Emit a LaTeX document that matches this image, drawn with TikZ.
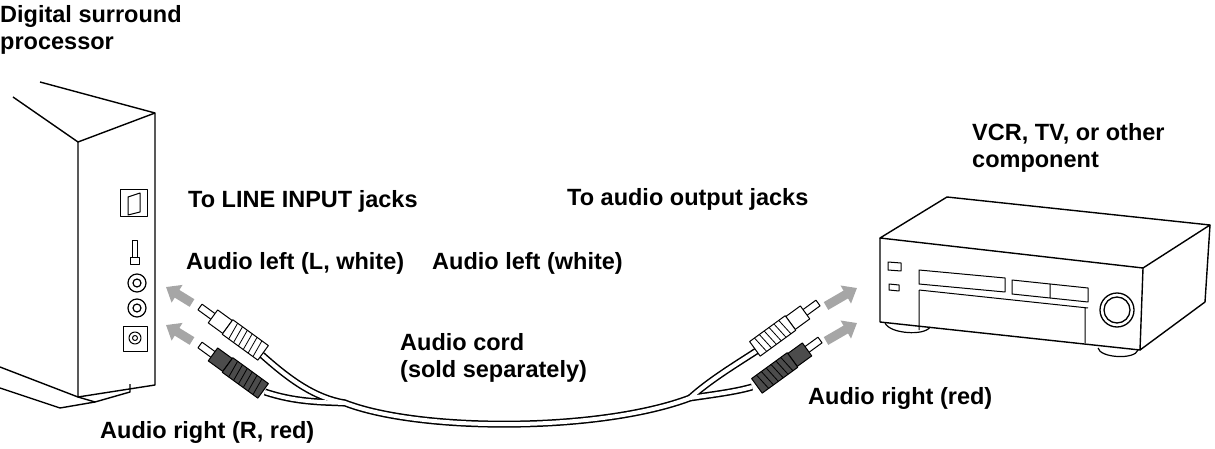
\documentclass[tikz,border=0pt]{standalone}
\usepackage{fontspec}
\setmainfont{Liberation Sans}
\usetikzlibrary{arrows.meta}
\begin{document}
\begin{tikzpicture}[x=1pt,y=-1pt,line join=round,
  lab/.style={anchor=west,inner sep=0pt,font=\fontsize{23.5}{27}\selectfont\bfseries,align=left},
  dev/.style={line width=1.4pt},
  garrow/.style={line width=9pt,gray!70,-{Triangle[length=13pt,width=20pt]}},
  cordo/.style={line width=7pt,black},
  cordi/.style={line width=4pt,white},
  plug/.pic={
    \draw[fill=white,line width=1pt] (0,-3.5) rectangle (18,3.5);
    \draw[fill=#1,line width=1pt] (16,-8) rectangle (34,8);
    \draw[fill=#1,line width=1pt] (34,-9) rectangle (78,9);
    \foreach \k in {40,46,...,74} \draw[line width=0.8pt] (\k,-9) -- (\k+2,9);
  }]
\useasboundingbox (0,0) rectangle (1215,449);
% ---- left device
\draw[dev] (13,97) -- (78,142) -- (155,113);
\draw[dev] (40,82) -- (155,113) -- (155,385) -- (78,397) -- (78,142);
\draw[dev] (0,367) -- (78,397);
\draw[dev] (0,388) -- (60,408) -- (95,402);
\draw[dev] (78,397) -- (95,402) -- (130,392) -- (130,384);
\draw[line width=1pt] (120,190) rectangle (147,217);
\draw[line width=1pt] (128,197) -- (140,193) -- (140,212) -- (128,215) -- cycle;
\draw[line width=1pt] (132,240) rectangle (137,257) (130,257) rectangle (139,264);
\draw[line width=1.2pt] (137,283) circle (9) (137,283) circle (4);
\draw[line width=1.2pt] (137,308) circle (9) (137,308) circle (4);
\draw[line width=1pt] (123,326) rectangle (147,351);
\draw[line width=1pt] (135,338) circle (6) (135,338) circle (2.5);
\draw[garrow] (192,303) -- (166,287);
\draw[garrow] (192,341) -- (166,325);
% ---- right device
\draw[dev] (880,238) -- (947,197) -- (1210,225) -- (1143,268) -- cycle;
\draw[dev] (880,238) -- (880,322) -- (1140,350) -- (1143,268);
\draw[dev] (1140,350) -- (1205,302) -- (1210,225);
\draw[line width=1.2pt] (885,323) .. controls (890,334) and (925,336) .. (930,327);
\draw[line width=1.2pt] (1098,348) .. controls (1100,358) and (1135,360) .. (1138,350);
\draw[line width=1pt] (888,262) -- (901,263) -- (901,271) -- (888,270) -- cycle;
\draw[line width=1pt] (889,284) -- (899,285) -- (899,291) -- (889,290) -- cycle;
\draw[line width=1pt] (919,270) -- (1005,278) -- (1005,292) -- (919,284) -- cycle;
\draw[line width=1pt] (1012,280) -- (1050,284) -- (1050,298) -- (1012,294) -- cycle;
\draw[line width=1pt] (1050,284) -- (1088,288) -- (1088,302) -- (1050,298);
\draw[line width=1pt] (919,290) -- (1088,308) (919,290) -- (919,330) (1085,308) -- (1085,343);
\draw[line width=1.3pt] (1117,310) circle (17) (1117,310) circle (13);
\draw[garrow] (826,306) -- (857,288);
\draw[garrow] (826,341) -- (857,323);
% ---- cord
\foreach \s in {cordo,cordi}{
\draw[\s] (262,355) .. controls (290,380) and (315,398) .. (345,403);
\draw[\s] (265,392) .. controls (295,402) and (320,402) .. (345,403)
  .. controls (420,432) and (600,432) .. (690,398);
\draw[\s] (690,398) .. controls (710,380) and (735,365) .. (758,350);
\draw[\s] (690,398) .. controls (710,395) and (735,392) .. (752,387);
}
% plugs
\pic[rotate=-36] at (200,307) {plug=white};
\pic[rotate=-36] at (200,345) {plug=black!70};
\pic[rotate=216] at (818,303) {plug=white};
\pic[rotate=216] at (820,340) {plug=black!70};
% ---- labels
\node[lab,anchor=north west] (dsp) at (0,5) {Digital surround\\processor};
\node[lab] (line) at (188,201) {To LINE INPUT jacks};
\node[lab] (al) at (186,263) {Audio left (L, white)};
\node[lab] (al2) at (432,263) {Audio left (white)};
\node[lab] (out) at (567,199) {To audio output jacks};
\node[lab] (vcr) at (972,148) {VCR, TV, or other\\component};
\node[lab] (cord) at (400,358) {Audio cord\\(sold separately)};
\node[lab] (ar) at (808,398) {Audio right (red)};
\node[lab] (arl) at (100,432) {Audio right (R, red)};
\end{tikzpicture}
\end{document}
